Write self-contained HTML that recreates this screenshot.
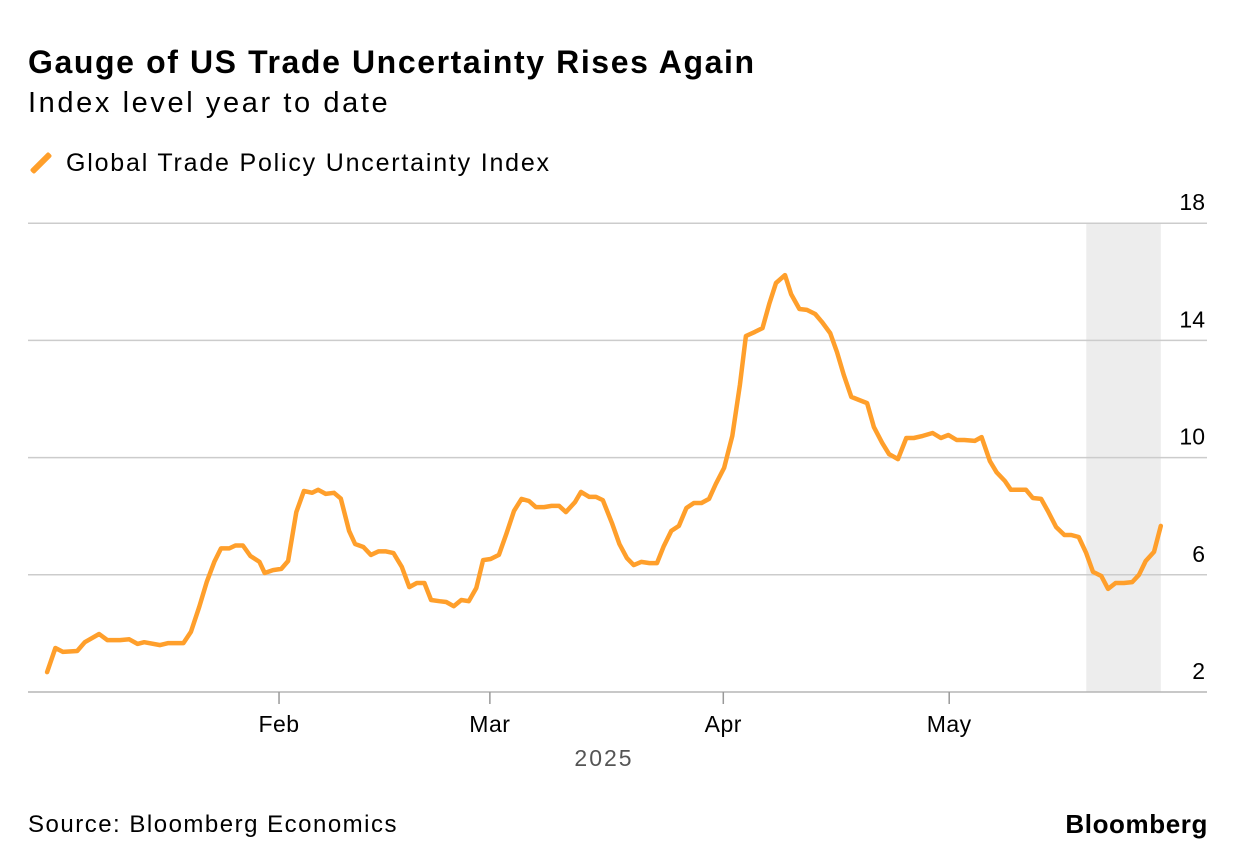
<!DOCTYPE html>
<html><head><meta charset="utf-8"><style>
body{margin:0;background:#fff;width:1237px;height:868px;overflow:hidden;font-family:"Liberation Sans",Arial,sans-serif;color:#000}
.t{position:absolute;white-space:nowrap}
</style></head><body>
<div class="t" style="left:28px;top:44px;font-size:32px;font-weight:bold;letter-spacing:1.6px">Gauge of US Trade Uncertainty Rises Again</div>
<div class="t" style="left:28px;top:87px;font-size:29px;letter-spacing:2.6px">Index level year to date</div>
<div class="t" style="left:28px;top:149px;font-size:25px;letter-spacing:1.8px"><span style="display:inline-block;width:6px;height:26px;background:#ff9f2b;transform:rotate(45deg);vertical-align:-5px;margin:0 22px 0 10px;border-radius:2px"></span>Global Trade Policy Uncertainty Index</div>
<svg id="chart" width="1237" height="868" style="position:absolute;left:0;top:0"></svg>
<div class="t" style="left:28px;top:811px;font-size:24px;letter-spacing:1.5px">Source: Bloomberg Economics</div>
<div class="t" style="right:29px;top:809px;font-size:26px;font-weight:bold;letter-spacing:0.6px">Bloomberg</div>
<script>
const days=[0.2,1.3,2.3,4.2,5.2,7.1,8.2,9.9,11.1,12.2,13.1,15.2,16.3,18.3,19.3,20.4,21.4,22.4,23.3,24.4,25.2,26.2,27.2,28.4,29.1,30.2,31.3,32.2,33.3,34.3,35.4,36.2,37.2,38.3,39.2,40.3,41.1,42.2,43.2,44.2,45.2,46.2,47.3,48.3,49.3,50.3,51.2,52.3,53.2,54.2,55.2,56.2,57.2,58.1,59.1,60.2,61.2,62.2,63.2,64.2,65.1,66.2,67.2,68.2,69.1,70.3,71.1,72.2,73.1,74.0,75.2,76.2,77.2,78.1,79.1,80.2,81.2,82.1,83.1,84.1,85.1,86.1,87.1,88.1,89.0,90.1,91.2,92.2,93.0,94.2,95.2,96.1,97.0,98.2,99.0,100.1,101.1,102.2,103.1,104.2,105.1,106.0,107.0,108.0,109.1,110.0,111.1,112.0,113.2,114.3,115.3,116.5,117.8,118.9,119.9,121.0,122.0,123.4,124.3,125.4,126.3,127.4,128.2,129.3,130.2,131.1,132.2,133.1,134.2,135.3,136.2,137.2,138.2,139.1,140.2,141.1,142.1,143.2,144.3,145.2,146.1,147.2,148.1];
const values=[2.68,3.5,3.37,3.4,3.7,3.98,3.77,3.77,3.8,3.64,3.7,3.6,3.67,3.67,4.05,4.9,5.75,6.44,6.9,6.9,7.0,7.0,6.64,6.44,6.06,6.16,6.2,6.47,8.14,8.86,8.8,8.9,8.76,8.8,8.6,7.5,7.05,6.95,6.68,6.8,6.8,6.74,6.27,5.58,5.72,5.72,5.14,5.1,5.07,4.93,5.14,5.1,5.55,6.5,6.54,6.68,7.4,8.18,8.59,8.52,8.31,8.31,8.35,8.35,8.14,8.48,8.83,8.66,8.66,8.55,7.77,7.05,6.57,6.33,6.44,6.4,6.4,6.98,7.5,7.67,8.28,8.45,8.45,8.59,9.1,9.65,10.74,12.48,14.15,14.29,14.42,15.24,15.96,16.23,15.58,15.07,15.04,14.9,14.63,14.25,13.6,12.82,12.07,11.97,11.86,11.04,10.5,10.12,9.95,10.67,10.67,10.74,10.84,10.67,10.77,10.6,10.6,10.57,10.7,9.88,9.5,9.2,8.9,8.9,8.9,8.62,8.59,8.18,7.63,7.36,7.36,7.29,6.74,6.1,5.96,5.52,5.72,5.72,5.75,6.0,6.47,6.78,7.67];
const yTicks=[2,6,10,14,18];
const monthLabels=["Feb","Mar","Apr","May"];
const monthDays=[31,59,90,120];
const shadeStart=138.2, shadeEnd=148.1;
const X=d=>45.6+d*7.53, Y=v=>692-(v-2)*29.3;
const svg=document.getElementById('chart'), NS='http://www.w3.org/2000/svg';
function mk(tag,attrs,parent){const e=document.createElementNS(NS,tag);for(const k in attrs)e.setAttribute(k,attrs[k]);(parent||svg).appendChild(e);return e;}
const sh=mk('rect',{x:X(shadeStart),y:Y(18),width:X(shadeEnd)-X(shadeStart),height:Y(2)-Y(18),fill:'#ededed'});


yTicks.forEach(t=>{
  if(t!==2){const g=mk('line',{x1:28,x2:1207,y1:Y(t),y2:Y(t),stroke:'#cccccc','stroke-width':1.5});
  
  }
  const tx=mk('text',{x:1205,y:Y(t)-13,'text-anchor':'end','font-size':23,fill:'#000'});
  
  
  tx.textContent=t;
});
const ax=mk('line',{x1:28,x2:1207,y1:692,y2:692,stroke:'#b5b5b5','stroke-width':1.5});


monthLabels.forEach((m,i)=>{
  const x=X(monthDays[i]);
  const tk=mk('line',{x1:x,x2:x,y1:692,y2:704,stroke:'#999','stroke-width':1.5});
  
  
  const tx=mk('text',{x:x,y:732,'text-anchor':'middle','font-size':23,fill:'#000','letter-spacing':'0.5'});
  
  
  tx.textContent=m;
});
const yr=mk('text',{x:604,y:766,'text-anchor':'middle','font-size':23,fill:'#555','letter-spacing':'2'});


yr.textContent='2025';
const ln=mk('path',{d:days.map((d,i)=>(i?'L':'M')+X(d).toFixed(1)+','+Y(values[i]).toFixed(1)).join(''),fill:'none',stroke:'#ff9f2b','stroke-width':4.5,'stroke-linejoin':'round','stroke-linecap':'round'});


</script>
</body></html>
